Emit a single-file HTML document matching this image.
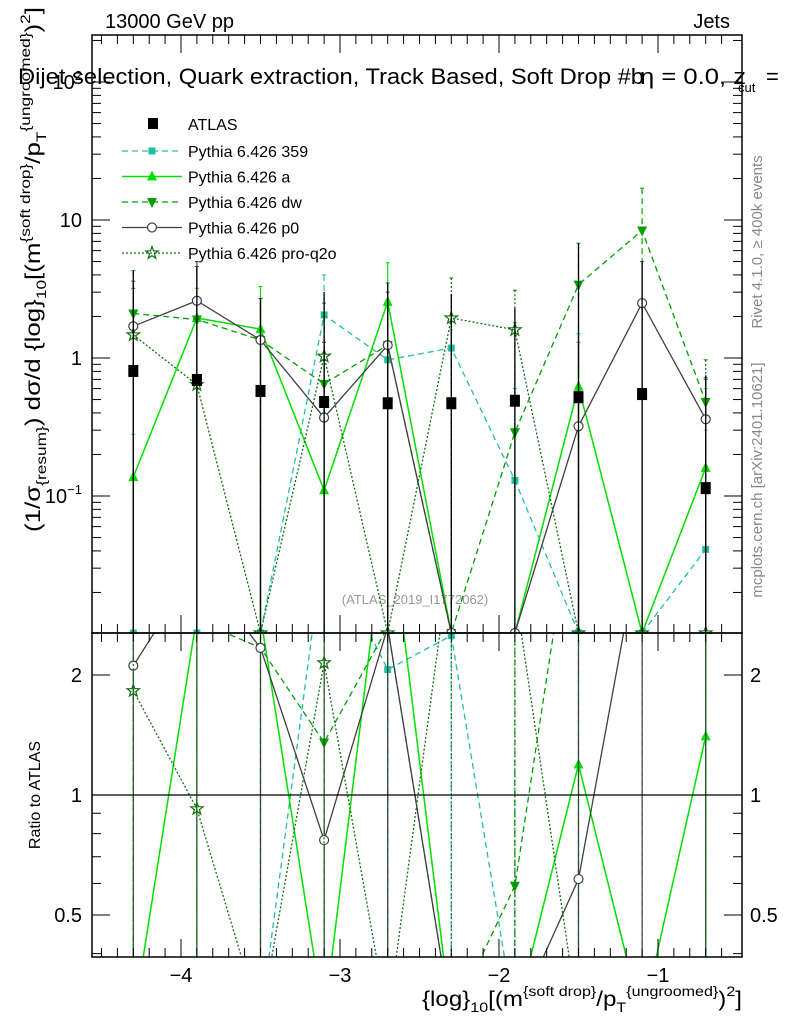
<!DOCTYPE html>
<html><head><meta charset="utf-8">
<style>
body{margin:0;background:#fff;width:786px;height:1024px;overflow:hidden}
svg{display:block}
svg text{font-family:"Liberation Sans",sans-serif}
</style></head>
<body>
<svg id="c" width="786" height="1024" xmlns="http://www.w3.org/2000/svg">
<defs>
<clipPath id="cm"><rect x="92" y="35" width="650" height="599"/></clipPath>
<clipPath id="cr"><rect x="92" y="633" width="650" height="324"/></clipPath>
</defs>
<text x="105" y="28" font-size="20">13000 GeV pp</text>
<text x="730" y="28" font-size="20" text-anchor="end">Jets</text>
<text x="18" y="84" font-size="22" textLength="626" lengthAdjust="spacingAndGlyphs">Dijet selection, Quark extraction, Track Based, Soft Drop #b</text>
<text x="640" y="84" font-size="22" textLength="106" lengthAdjust="spacingAndGlyphs">η = 0.0, z</text>
<text x="738" y="92" font-size="13">cut</text>
<text x="766" y="84" font-size="22">=</text>
<text transform="translate(762,242) rotate(-90)" font-size="15" fill="#888" text-anchor="middle">Rivet 4.1.0, ≥ 400k events</text>
<text transform="translate(762,480) rotate(-90)" font-size="15" fill="#888" text-anchor="middle">mcplots.cern.ch [arXiv:2401.10621]</text>
<text transform="translate(40,532) rotate(-90)" font-size="21" textLength="525" lengthAdjust="spacingAndGlyphs">(1/σ<tspan font-size="14" dy="6">{resum}</tspan><tspan dy="-6">) dσ/d {log}</tspan><tspan font-size="14" dy="6">10</tspan><tspan dy="-6">[(m</tspan><tspan font-size="14" dy="-10">{soft drop}</tspan><tspan dy="10">/p</tspan><tspan font-size="14" dy="6">T</tspan><tspan font-size="14" dy="-16">{ungroomed}</tspan><tspan dy="10">)</tspan><tspan font-size="14" dy="-10">2</tspan><tspan dy="10">]</tspan></text>
<text transform="translate(40,795) rotate(-90)" font-size="16" text-anchor="middle">Ratio to ATLAS</text>
<text x="422" y="1006" font-size="21" textLength="320" lengthAdjust="spacingAndGlyphs">{log}<tspan font-size="14" dy="6">10</tspan><tspan dy="-6">[(m</tspan><tspan font-size="14" dy="-10">{soft drop}</tspan><tspan dy="10">/p</tspan><tspan font-size="14" dy="6">T</tspan><tspan font-size="14" dy="-16">{ungroomed}</tspan><tspan dy="10">)</tspan><tspan font-size="14" dy="-10">2</tspan><tspan dy="10">]</tspan></text>
<text x="415" y="604" font-size="13" fill="#999" text-anchor="middle">(ATLAS_2019_I1772062)</text>
<g id="g"></g>
</svg>
<script>
const xs=[-4.3,-3.9,-3.5,-3.1,-2.7,-2.3,-1.9,-1.5,-1.1,-0.7];
const atlasV=[0.805,0.693,0.577,0.48,0.47,0.47,0.49,0.52,0.548,0.114];
const atlasUp=[4.3,4.6,2.7,3.0,3.5,2.9,2.3,6.8,5.0,0.75];
const s359=[0,0,0,2.05,0.97,1.18,0.13,0,0,0.041];
const s359Up=[0,0,0,4.0,1.3,1.6,0.6,0,0,0.3];
const sA=[0.137,1.95,1.62,0.11,2.55,0,0,0.62,0,0.16];
const sAUp=[0.28,3.2,3.3,0.4,4.9,0,0,1.5,0,0.6];
const sDW=[2.1,1.9,1.35,0.65,1.24,0,0.29,3.4,8.4,0.48];
const sDWUp=[4.3,4.6,2.7,2.0,3.5,0,1.8,6.8,17,0.7];
const sP0=[1.7,2.6,1.35,0.37,1.24,0,0,0.32,2.5,0.36];
const sP0Up=[3.6,5.0,2.7,1.3,3.0,0,0,1.3,5.0,0.72];
const sQ=[1.47,0.64,0,1.03,0,1.95,1.6,0,0,0];
const sQUp=[3.2,1.9,0,2.5,0,3.8,3.1,0,0,0.97];
const xTicks=[-4,-3,-2,-1];
const xTickLabels=["−4","−3","−2","−1"];
const series=[
 {n:"Pythia 6.426 359",v:s359,u:s359Up,c:"#20c0a0",d:"6,4",m:"sq",w:1.3},
 {n:"Pythia 6.426 a",v:sA,u:sAUp,c:"#00e000",d:"",m:"tu",w:1.5},
 {n:"Pythia 6.426 dw",v:sDW,u:sDWUp,c:"#00a000",d:"6,4",m:"td",w:1.3},
 {n:"Pythia 6.426 p0",v:sP0,u:sP0Up,c:"#404040",d:"",m:"ci",w:1.3},
 {n:"Pythia 6.426 pro-q2o",v:sQ,u:sQUp,c:"#107010",d:"2,2",m:"st",w:1.3}
];
const X=x=>181+(x+4)*159;
const Y=v=>v<=0?633:358-Math.log10(v)*138;
const R=v=>v<=0?1020:Math.min(1020,795-Math.log10(v)*398.6);
const NS="http://www.w3.org/2000/svg";
const G=document.getElementById('g');
function el(t,a,p){const e=document.createElementNS(NS,t);for(const k in a)e.setAttribute(k,a[k]);(p||G).appendChild(e);return e;}
function marker(m,x,y,c,p){
 let e;
 if(m==="sq")e=el('rect',{x:x-3.5,y:y-3.5,width:7,height:7,fill:c},p);
 else if(m==="sqb")e=el('rect',{x:x-5,y:y-6,width:10,height:12,fill:c},p);
 else if(m==="tu")e=el('path',{d:`M${x},${y-6}L${x+5},${y+4}L${x-5},${y+4}Z`,fill:c},p);
 else if(m==="td")e=el('path',{d:`M${x},${y+6}L${x+5},${y-4}L${x-5},${y-4}Z`,fill:c},p);
 else if(m==="ci")e=el('circle',{cx:x,cy:y,r:4.5,fill:"#fff",stroke:c,"stroke-width":1.2},p);
 else {let d="";for(let i=0;i<10;i++){const r=i%2?2.6:6.5,a=-Math.PI/2+i*Math.PI/5;d+=(i?"L":"M")+(x+r*Math.cos(a)).toFixed(1)+","+(y+r*Math.sin(a)).toFixed(1);}e=el('path',{d:d+"Z",fill:"none",stroke:c,"stroke-width":1.2},p);}
 return e;
}
const gm=el('g',{"clip-path":"url(#cm)"});


const gr=el('g',{"clip-path":"url(#cr)"});


const ref=el('line',{x1:92,x2:742,y1:R(1),y2:R(1),stroke:"#000","stroke-width":1.2});


series.forEach((s,si)=>{
 const g=el('g',{},gm);
 
 
 xs.forEach((x,i)=>{if(s.u[i]<=0)return;el('line',{x1:X(x),x2:X(x),y1:Y(s.u[i]),y2:640,stroke:s.c,"stroke-width":1.2,"stroke-dasharray":s.d},g);
  el('line',{x1:X(x)-2,x2:X(x)+2,y1:Y(s.u[i]),y2:Y(s.u[i]),stroke:s.c},g);});
 el('polyline',{points:xs.map((x,i)=>X(x)+","+Y(s.v[i])).join(" "),fill:"none",stroke:s.c,"stroke-width":s.w,"stroke-dasharray":s.d},g);
 xs.forEach((x,i)=>{const mk=marker(s.m,X(x),Y(s.v[i]),s.c,g);});
 const gg=el('g',{},gr);
 
 
 const rv=xs.map((x,i)=>s.v[i]/atlasV[i]);
 xs.forEach((x,i)=>{if(s.u[i]>0)el('line',{x1:X(x),x2:X(x),y1:R(s.u[i]/atlasV[i]),y2:1000,stroke:s.c,"stroke-width":1.2,"stroke-dasharray":s.d},gg);});
 el('polyline',{points:xs.map((x,i)=>X(x)+","+R(rv[i])).join(" "),fill:"none",stroke:s.c,"stroke-width":s.w,"stroke-dasharray":s.d},gg);
 xs.forEach((x,i)=>{marker(s.m,X(x),R(rv[i]),s.c,gg);});
});
const ga=el('g',{},gm);


xs.forEach((x,i)=>{el('line',{x1:X(x),x2:X(x),y1:Y(atlasUp[i]),y2:640,stroke:"#000","stroke-width":1.3},ga);
 const mk=marker("sqb",X(x),Y(atlasV[i]),"#000",ga);});
el('rect',{x:92,y:35,width:650,height:598,fill:"none",stroke:"#000","stroke-width":1.5});
el('rect',{x:92,y:633,width:650,height:324,fill:"none",stroke:"#000","stroke-width":1.5});
for(let e=-2;e<=2;e++)for(let k=1;k<10;k++){const v=k*Math.pow(10,e),y=Y(v);if(y<35||y>633)continue;const L=k===1?18:9;
 el('line',{x1:92,x2:92+L,y1:y,y2:y,stroke:"#000"});el('line',{x1:742-L,x2:742,y1:y,y2:y,stroke:"#000"});}
[[10,"10"],[1,"1"]].forEach(([v,t])=>{const tx=el('text',{x:82,y:Y(v)+7,"font-size":20,"text-anchor":"end"});tx.textContent=t;});
const t01=el('text',{x:82,y:Y(0.1)+7,"font-size":20,"text-anchor":"end"});t01.innerHTML='10<tspan font-size="13" dy="-9">−1</tspan>';
const t100=el('text',{x:82,y:Y(100)+7,"font-size":20,"text-anchor":"end"});t100.innerHTML='10<tspan font-size="13" dy="-9">2</tspan>';
[0.4,0.5,0.6,0.7,0.8,0.9,1,2].forEach(v=>{const y=R(v),L=(v===1||v===2||v===0.5)?18:9;
 el('line',{x1:92,x2:92+L,y1:y,y2:y,stroke:"#000"});el('line',{x1:742-L,x2:742,y1:y,y2:y,stroke:"#000"});});
[[2,"2"],[1,"1"],[0.5,"0.5"]].forEach(([v,t])=>{const a=el('text',{x:82,y:R(v)+7,"font-size":20,"text-anchor":"end"});a.textContent=t;
 const b=el('text',{x:750,y:R(v)+7,"font-size":20});b.textContent=t;});
for(let v=-4.5;v<=-0.5;v+=0.1){const x=X(v);if(x<92||x>742)continue;const maj=Math.abs(v-Math.round(v))<0.01;const L=maj?18:9;
 [633,957].forEach(b=>el('line',{x1:x,x2:x,y1:b-L,y2:b,stroke:"#000"}));el('line',{x1:x,x2:x,y1:35,y2:35+L,stroke:"#000"});el('line',{x1:x,x2:x,y1:633,y2:633+L,stroke:"#000"});}
xTicks.forEach((v,i)=>{const t=el('text',{x:X(v),y:982,"font-size":20,"text-anchor":"middle"});t.textContent=xTickLabels[i];});
const lg=el('g',{});


el('rect',{x:148,y:118,width:10,height:11,fill:"#000"},lg);
const l0=el('text',{x:188,y:130,"font-size":16},lg);l0.textContent="ATLAS";
series.forEach((s,i)=>{const y=151+i*25.5;
 el('line',{x1:122,x2:182,y1:y,y2:y,stroke:s.c,"stroke-width":s.w,"stroke-dasharray":s.d},lg);
 marker(s.m,152,y,s.c,lg);
 const t=el('text',{x:188,y:y+6,"font-size":16},lg);t.textContent=s.n;
 });
</script>
</body></html>
